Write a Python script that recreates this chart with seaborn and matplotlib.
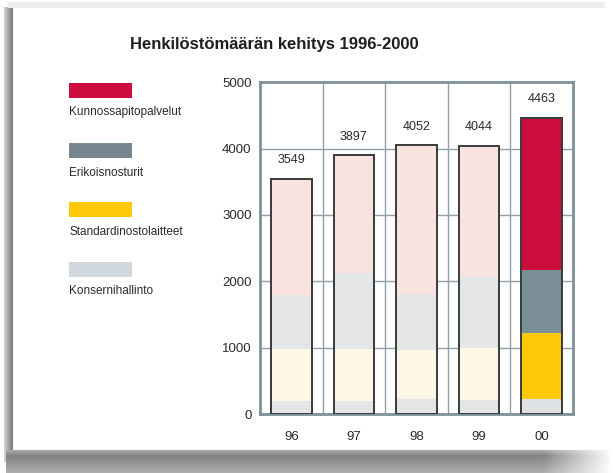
import numpy as np
import pandas as pd
import matplotlib
matplotlib.use("Agg")
import matplotlib.pyplot as plt
from matplotlib.patches import Rectangle
import seaborn as sns

# data
years = ["96", "97", "98", "99", "00"]
konserni = [196, 196, 226, 211, 226]
standard = [789, 789, 744, 789, 995]
erikois = [804, 1141, 844, 1065, 950]
totals = [3549, 3897, 4052, 4044, 4463]
kunnossa = [t - a - b - c for t, a, b, c in zip(totals, konserni, standard, erikois)]

series = ["Kunnossapitopalvelut", "Erikoisnosturit", "Standardinostolaitteet", "Konsernihallinto"]
legend_colors = ["#cc0e3f", "#78878f", "#ffc90a", "#d0d7dd"]
full_colors = ["#cc0e3f", "#7b8f97", "#ffc90a", "#dfe2e5"]
faded_colors = ["#f8e3df", "#e4e5e7", "#fdf7e6", "#e4e5e7"]

GRID = "#8fa0aa"
FRAME = "#7d919b"
TEXT = "#2a2a2a"

sns.set_theme(style="white")
plt.rcParams["font.family"] = ["Liberation Sans", "DejaVu Sans"]

fig = plt.figure(figsize=(6.15, 4.73), dpi=100)

# ── page frame with shadow ──────────────────
bg = fig.add_axes([0, 0, 1, 1], zorder=-10)
H, W = 473, 615
img = np.ones((H, W, 3))
left = np.linspace(0.82, 0.48, 9)
for i, v in enumerate(left):
    img[8:462, 4 + i, :] = v
img[3:9, 8:W - 10, :] = 0.93
bottom = np.concatenate([np.linspace(0.66, 0.52, 6), np.linspace(0.52, 0.68, 17)])
fade = np.clip((612 - np.arange(W)) / 70.0, 0, 1)
for j, v in enumerate(bottom):
    row = 450 + j
    if row < H:
        img[row, 6:, :] = (v * fade[6:] + 1.0 * (1 - fade[6:]))[:, None]
bg.imshow(img, aspect="auto", interpolation="bilinear")
bg.set_axis_off()

# ── bars ────────────────────────────────────
ax = fig.add_axes([260 / 615, 1 - 414 / 473, 313 / 615, (414 - 82.3) / 473])

df = pd.DataFrame({
    "year": years,
    "Konsernihallinto": konserni,
    "Standardinostolaitteet": standard,
    "Erikoisnosturit": erikois,
    "Kunnossapitopalvelut": kunnossa,
})
stack_order = ["Konsernihallinto", "Standardinostolaitteet", "Erikoisnosturit", "Kunnossapitopalvelut"]
cum = df[stack_order].cumsum(axis=1)

# draw from top of stack down so lower segments overlap upper ones
for name in reversed(stack_order):
    k = series.index(name)
    pal = [faded_colors[k]] * 4 + [full_colors[k]]
    sns.barplot(x=df["year"], y=cum[name], hue=df["year"], palette=pal,
                legend=False, width=0.65, errorbar=None, linewidth=0,
                saturation=1, ax=ax, zorder=3)

sns.barplot(x=df["year"], y=df[stack_order].sum(axis=1), fill=False,
            color="#3a3a3a", width=0.65, errorbar=None, linewidth=1.4,
            ax=ax, zorder=4)

for i, t in enumerate(totals):
    ax.text(i, t + 280, str(t), ha="center", va="center", fontsize=9, color=TEXT)

ax.set_xlim(-0.5, 4.5)
ax.set_ylim(0, 5000)
ax.set_yticks(range(0, 5001, 1000))
ax.set_xticks(np.arange(0.5, 4, 1), minor=True)
ax.grid(True, axis="y", color=GRID, lw=1.0, zorder=0)
ax.grid(True, axis="x", which="minor", color=GRID, lw=1.0, zorder=0)
ax.set_axisbelow(True)
ax.set_xlabel("")
ax.set_ylabel("")
ax.tick_params(axis="both", which="both", length=0, labelsize=9.5, colors=TEXT)
ax.tick_params(axis="x", pad=12)
ax.tick_params(axis="y", pad=6)
for s in ax.spines.values():
    s.set_visible(True)
    s.set_color(FRAME)
    s.set_linewidth(2)

# ── title and legend ────────────────────────
fig.text(274.5 / 615, 1 - 45 / 473, "Henkilöstömäärän kehitys 1996-2000",
         ha="center", va="center", fontsize=12, fontweight="bold", color="#1e1e1e")

rect_tops = [83.3, 143.3, 202.3, 262.3]
text_y = [111.7, 173.3, 231.7, 291.0]
for name, col, rt, ty in zip(series, legend_colors, rect_tops, text_y):
    fig.add_artist(Rectangle((69 / 615, 1 - (rt + 15) / 473), 63 / 615, 15 / 473,
                             transform=fig.transFigure, facecolor=col, edgecolor="none"))
    fig.text(69 / 615, 1 - ty / 473, name, ha="left", va="center", fontsize=8.5, color=TEXT)

fig.savefig("out.png", dpi=100)
